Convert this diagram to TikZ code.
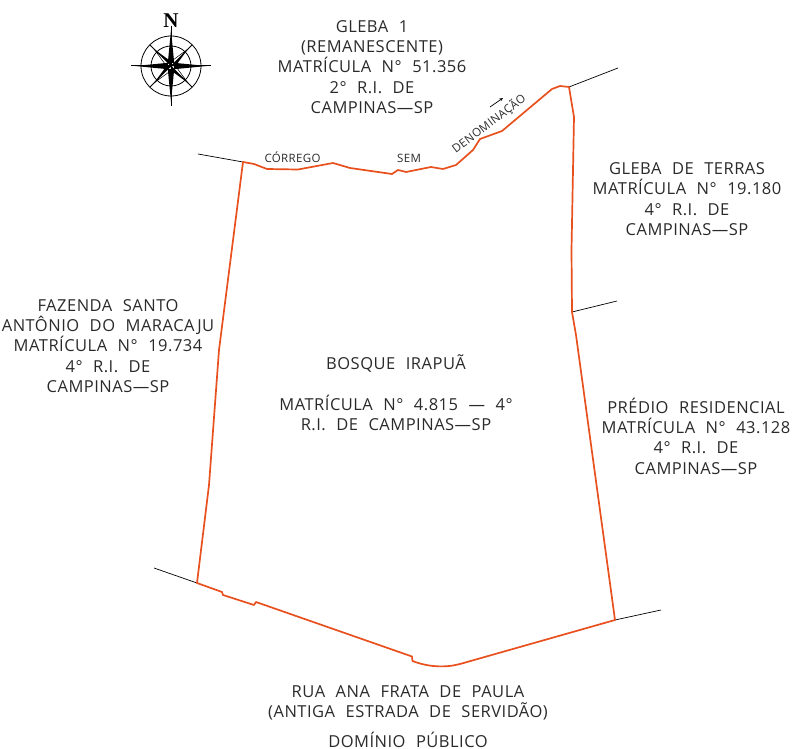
\documentclass[tikz,border=0pt]{standalone}
\usepackage{fontspec}
\usetikzlibrary{arrows.meta}
\setmainfont{Open Sans}[LetterSpace=3,WordSpace=2.2]
\newfontfamily\nfont{Liberation Serif}
\definecolor{lim}{HTML}{E8501E}
\definecolor{txt}{HTML}{2A2A2A}
\tikzset{
 lab/.style={align=center,inner sep=0,text=txt,font=\fontsize{16.5}{20.3}\selectfont},
 small/.style={inner sep=0,text=txt,font=\fontsize{11.5}{12}\selectfont},
 limit/.style={draw=lim,line width=1.7pt,line join=round},
 stub/.style={draw=black,line width=0.7pt},
 rosecirc/.style={draw=black,line width=0.8pt},
}
\begin{document}
\begin{tikzpicture}[x=1pt,y=-1pt]
\useasboundingbox (0,0) rectangle (793,749);
% boundary vertices
\coordinate (tl) at (243,162);
\coordinate (tr) at (569,87);
\coordinate (mr) at (572,312);
\coordinate (br) at (615,620);
\coordinate (bl) at (197,583);
\coordinate (s1) at (198,154);
\coordinate (s2) at (618,68);
\coordinate (s3) at (617,301);
\coordinate (s4) at (661,610);
\coordinate (s5) at (154,568);
\draw[stub] (s1)--(tl);
\draw[stub] (tr)--(s2);
\draw[stub] (mr)--(s3);
\draw[stub] (br)--(s4);
\draw[stub] (s5)--(bl);
\draw[limit] (tl)--(254,164)--(267,169)--(298,169.5)--(333,163)--(350,168)--(392,174)--(398,170)--(406,172)--(431,167)--(443,169)--(456,165)--(473,150)--(480,139)--(502,131)--(552,89)--(560,86)--(tr)--(574,117)--(571.5,250)--(mr)--(576,335)--(br)--(460,664) .. controls (445,668) and (428,667) .. (412.5,661)--(412,656.5)--(256,602)--(254,605)--(223,595)--(222,592)--(bl)--(209,485)--(219,350)--cycle;
% north rose
\begin{scope}[shift={(171,66)}]
\draw[rosecirc] (0,0) circle (30);
\draw[rosecirc] (0,0) circle (20);
\foreach \a in {45,135,225,315} \draw[rosecirc] (\a:20)--(\a:30);
\draw[line width=1pt] (-40,0)--(40,0) (0,-40)--(0,40);
\foreach \a in {0,90,180,270}{
 \fill[black] (\a:36)--(\a+45:4.5)--(\a-45:4.5)--cycle;
}
\foreach \a in {45,135,225,315}{
 \fill[black] (\a:24)--(\a+45:4.5)--(0,0)--cycle;
 \draw[line width=0.5pt] (0,0)--(\a:24)--(\a-45:4.5)--cycle;
}
\end{scope}
\node[inner sep=0,font=\nfont\bfseries\fontsize{21}{21}\selectfont] (north) at (171,20.5) {N};
% labels
\node[lab] (gleba1) at (372,67) {GLEBA 1\\(REMANESCENTE)\\MATRÍCULA N° 51.356\\2° R.I. DE\\CAMPINAS---SP};
\node[lab] (gleba) at (687,199) {GLEBA DE TERRAS\\MATRÍCULA N° 19.180\\4° R.I. DE\\CAMPINAS---SP};
\node[lab] (faz) at (108,346) {FAZENDA SANTO\\ANTÔNIO DO MARACAJU\\MATRÍCULA N° 19.734\\4° R.I. DE\\CAMPINAS---SP};
\node[lab] (bosque) at (396,393) {BOSQUE IRAPUÃ\\[20.3pt]MATRÍCULA N° 4.815 --- 4°\\R.I. DE CAMPINAS---SP};
\node[lab] (predio) at (696,436) {PRÉDIO RESIDENCIAL\\MATRÍCULA N° 43.128\\4° R.I. DE\\CAMPINAS---SP};
\node[lab] (rua) at (408,703) {RUA ANA FRATA DE PAULA\\(ANTIGA ESTRADA DE SERVIDÃO)};
\node[lab] (dom) at (408,740) {DOMÍNIO PÚBLICO};
\node[small] (corr) at (292.5,157) {CÓRREGO};
\node[small] (sem) at (409,158) {SEM};
\node[small,rotate=37] (den) at (489,124) {DENOMINAÇÃO};
\coordinate (a1) at (490,107);
\coordinate (a2) at (503,98);
\draw[line width=0.7pt,-{Stealth[length=3.5pt,width=3pt]}] (a1)--(a2);
\end{tikzpicture}
\end{document}
